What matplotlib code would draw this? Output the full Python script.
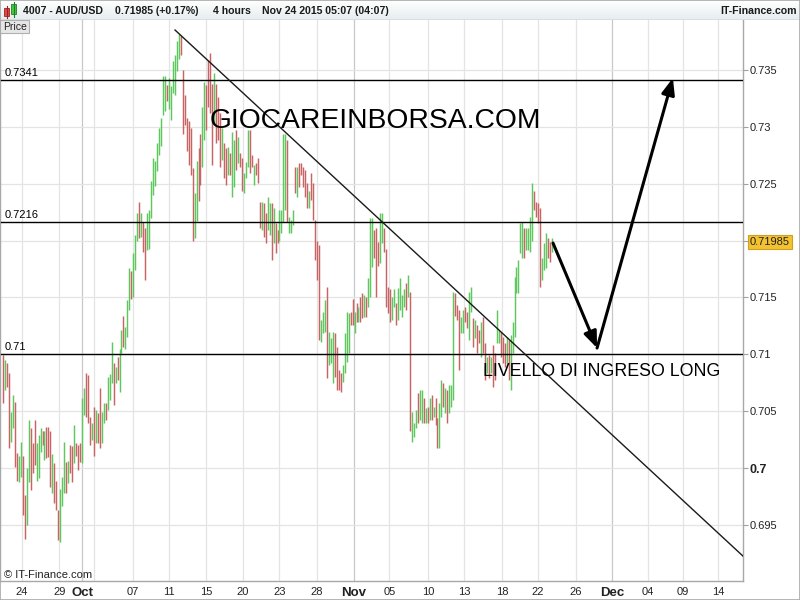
import matplotlib
matplotlib.use('Agg')
import matplotlib.pyplot as plt
import numpy as np
from matplotlib.patches import Rectangle

plt.rcParams['font.family'] = ['Liberation Sans', 'DejaVu Sans']

# ---------------- data (4-hour AUD/USD bars: high, low, direction) ----------------
highs = [
    # late Sep
    0.7099, 0.7095, 0.7092, 0.7084, 0.7049, 0.7064, 0.7058, 0.7013, 0.7011, 0.7023,
    0.7011, 0.6976, 0.7000, 0.7042, 0.7035, 0.7022, 0.7042, 0.7022, 0.7029, 0.7035,
    0.7033, 0.7033, 0.7036, 0.7036,
    0.7033, 0.7012, 0.7004, 0.6989, 0.6963, 0.6982, 0.6992, 0.7023, 0.7005, 0.7006,
    0.7020, 0.7019, 0.7038, 0.7022, 0.7020, 0.7022, 0.7062, 0.7070, 0.7084, 0.7082,
    0.7045, 0.7040, 0.7054, 0.7051, 0.7048,
    # early Oct
    0.7070, 0.7049, 0.7057, 0.7057, 0.7080, 0.7083, 0.7111, 0.7092, 0.7089, 0.7098,
    0.7105, 0.7121, 0.7134, 0.7124, 0.7148, 0.7176, 0.7173, 0.7189, 0.7205, 0.7224,
    0.7234, 0.7224, 0.7216, 0.7211, 0.7224,
    0.7227, 0.7252, 0.7273, 0.7270, 0.7286, 0.7299, 0.7308, 0.7345, 0.7345, 0.7337,
    0.7343, 0.7336, 0.7358, 0.7363, 0.7375, 0.7382, 0.7380, 0.7350, 0.7328, 0.7308,
    0.7305, 0.7299, 0.7264, 0.7242, 0.7270, 0.7281,
    # mid / late Oct
    0.7294, 0.7317, 0.7339, 0.7337, 0.7359, 0.7365, 0.7338, 0.7347, 0.7338, 0.7326,
    0.7312, 0.7299, 0.7286, 0.7281, 0.7282, 0.7277, 0.7295, 0.7288, 0.7297, 0.7291,
    0.7277, 0.7273, 0.7259, 0.7269, 0.7297, 0.7297, 0.7275, 0.7266, 0.7268, 0.7273,
    0.7234, 0.7234, 0.7233, 0.7224, 0.7238, 0.7233, 0.7233, 0.7229, 0.7215, 0.7209,
    0.7227, 0.7227, 0.7294, 0.7294, 0.7288, 0.7221, 0.7218, 0.7227, 0.7265, 0.7265,
    0.7268, 0.7268, 0.7265, 0.7262, 0.7251, 0.7244, 0.7259, 0.7251, 0.7218, 0.7200,
    # late Oct - Nov
    0.7196, 0.7130, 0.7137, 0.7148, 0.7159, 0.7120, 0.7114, 0.7120, 0.7119, 0.7106,
    0.7086, 0.7084, 0.7091, 0.7119, 0.7137, 0.7136, 0.7137, 0.7149, 0.7137, 0.7145,
    0.7142, 0.7150, 0.7154, 0.7152, 0.7150, 0.7167, 0.7220, 0.7220, 0.7209, 0.7211,
    0.7199, 0.7224, 0.7224, 0.7211, 0.7193, 0.7159, 0.7157, 0.7150, 0.7157, 0.7145,
    0.7158, 0.7167, 0.7152, 0.7157, 0.7163, 0.7170, 0.7155, 0.7049, 0.7040, 0.7051,
    0.7066, 0.7069, 0.7069, 0.7062, 0.7053, 0.7054, 0.7062, 0.7064, 0.7054, 0.7062,
    0.7044, 0.7057, 0.7077, 0.7075, 0.7070, 0.7069, 0.7073, 0.7073, 0.7155, 0.7154,
    0.7143, 0.7139, 0.7133, 0.7139, 0.7142, 0.7137, 0.7155, 0.7159, 0.7132, 0.7130,
    0.7126, 0.7121, 0.7128, 0.7133, 0.7110, 0.7098, 0.7099, 0.7098, 0.7108, 0.7101,
    0.7139, 0.7121, 0.7120, 0.7115, 0.7110, 0.7115, 0.7113, 0.7117, 0.7128, 0.7168,
    0.7177, 0.7183, 0.7215, 0.7216, 0.7211, 0.7211, 0.7211, 0.7221, 0.7251, 0.7244,
    0.7234, 0.7233, 0.7229, 0.7185, 0.7198, 0.7207, 0.7202, 0.7199, 0.7202,
]

lows = [
    0.7057, 0.7069, 0.7071, 0.7018, 0.7023, 0.7035, 0.7001, 0.6989, 0.6988, 0.6992,
    0.6959, 0.6938, 0.6950, 0.6988, 0.6981, 0.6996, 0.7003, 0.6989, 0.6991, 0.7014,
    0.7020, 0.7007, 0.7009, 0.7010,
    0.6983, 0.6978, 0.6969, 0.6963, 0.6937, 0.6935, 0.6967, 0.6978, 0.6978, 0.6987,
    0.6996, 0.6988, 0.7004, 0.7011, 0.6998, 0.7005, 0.7004, 0.7047, 0.7045, 0.7040,
    0.7020, 0.7025, 0.7011, 0.7022, 0.7022,
    0.7018, 0.7022, 0.7040, 0.7042, 0.7051, 0.7060, 0.7075, 0.7055, 0.7075, 0.7077,
    0.7067, 0.7101, 0.7106, 0.7105, 0.7115, 0.7139, 0.7149, 0.7150, 0.7174, 0.7200,
    0.7202, 0.7203, 0.7190, 0.7165, 0.7192,
    0.7193, 0.7220, 0.7240, 0.7248, 0.7261, 0.7275, 0.7283, 0.7310, 0.7314, 0.7323,
    0.7316, 0.7306, 0.7330, 0.7328, 0.7349, 0.7360, 0.7363, 0.7294, 0.7302, 0.7279,
    0.7266, 0.7258, 0.7200, 0.7202, 0.7217, 0.7235,
    0.7249, 0.7265, 0.7288, 0.7297, 0.7317, 0.7312, 0.7266, 0.7303, 0.7286, 0.7288,
    0.7265, 0.7271, 0.7255, 0.7249, 0.7258, 0.7258, 0.7238, 0.7247, 0.7262, 0.7268,
    0.7265, 0.7244, 0.7242, 0.7255, 0.7265, 0.7259, 0.7265, 0.7249, 0.7258, 0.7251,
    0.7211, 0.7209, 0.7203, 0.7198, 0.7209, 0.7205, 0.7183, 0.7198, 0.7189, 0.7198,
    0.7200, 0.7207, 0.7216, 0.7227, 0.7216, 0.7207, 0.7207, 0.7214, 0.7242, 0.7238,
    0.7247, 0.7258, 0.7247, 0.7238, 0.7229, 0.7229, 0.7236, 0.7218, 0.7183, 0.7165,
    0.7113, 0.7111, 0.7119, 0.7120, 0.7079, 0.7091, 0.7092, 0.7075, 0.7080, 0.7069,
    0.7069, 0.7067, 0.7076, 0.7084, 0.7093, 0.7101, 0.7126, 0.7126, 0.7119, 0.7128,
    0.7128, 0.7128, 0.7132, 0.7133, 0.7133, 0.7142, 0.7150, 0.7177, 0.7185, 0.7150,
    0.7178, 0.7180, 0.7198, 0.7190, 0.7142, 0.7136, 0.7128, 0.7130, 0.7142, 0.7126,
    0.7130, 0.7139, 0.7133, 0.7142, 0.7139, 0.7150, 0.7033, 0.7023, 0.7027, 0.7035,
    0.7040, 0.7042, 0.7040, 0.7040, 0.7040, 0.7040, 0.7042, 0.7042, 0.7045, 0.7038,
    0.7018, 0.7018, 0.7045, 0.7054, 0.7048, 0.7040, 0.7048, 0.7054, 0.7060, 0.7134,
    0.7130, 0.7086, 0.7119, 0.7119, 0.7128, 0.7123, 0.7113, 0.7137, 0.7106, 0.7114,
    0.7101, 0.7110, 0.7098, 0.7101, 0.7077, 0.7084, 0.7079, 0.7084, 0.7071, 0.7077,
    0.7110, 0.7110, 0.7098, 0.7092, 0.7089, 0.7092, 0.7077, 0.7069, 0.7101, 0.7115,
    0.7154, 0.7154, 0.7189, 0.7185, 0.7185, 0.7192, 0.7192, 0.7190, 0.7200, 0.7227,
    0.7221, 0.7215, 0.7159, 0.7165, 0.7174, 0.7176, 0.7185, 0.7181, 0.7190,
]

# G = up bar (green), R = down bar (red)
directions = (
    "RGRRGGRRGGRRGGRRRGGGRGRR"
    "RGRRRGGGRGRRGRRRGGRRRGRGR"
    "RGGRGGGRGRGGRGGGRGGGRGRRG"
    "GGGGGGGGGRGGGGGGRRRRRRRGGR"
    "RGGRRRRGRR" "RGRRGRGGRG" "RRGGGRRGRR" "RGRRGGRGRR" "GGGGRGGGRG" "RRRRRGRRRR"
    "RGGGRGGGRR" "RRGGGGRRGR" "GRRGRGGGRR" "RGGRRRRGGR" "GGGGRGRGGG" "RGGRGRGRGR"
    "RGGRGRGGGR" "RRGGRRGGRG" "RRGRRGRGRR" "GGRRRGRGGG" "GGGGRGGGGR" "RRRGGGRRG"
)

levels = [0.7341, 0.7216, 0.71]
level_labels = ['0.7341', '0.7216', '0.71']
last_price = 0.71985
last_label = '0.71985'

y_ticks = [0.695, 0.70, 0.705, 0.71, 0.715, 0.72, 0.725, 0.73, 0.735]
y_tick_labels = ['0.695', '0.7', '0.705', '0.71', '0.715', '', '0.725', '0.73', '0.735']

# date ticks on the bar-index axis
date_labels = ['24', '29', 'Oct', '', '07', '11', '15', '20', '23', '28', 'Nov',
               '05', '10', '13', '18', '22', '26', 'Dec', '04', '09', '14']
date_pos = [9.5, 28.5, 40.2, 46.2, 65.7, 83.9, 102.8, 121.4, 139.9, 158.8, 177.5,
            195.7, 215.2, 233.4, 252.7, 270.9, 290.1, 308.4, 326.6, 344.3, 362.0]
month_labels = ['Oct', 'Nov', 'Dec']

# drawn annotations (trend line and projected path)
trend_x = [87.1, 374.7]
trend_y = [0.73851, 0.69226]
path_x = [278.5, 300.8, 339.2]
path_y = [0.71978, 0.71055, 0.73429]

# ---------------- figure ----------------
W, H = 800, 600
fig = plt.figure(figsize=(8, 6), dpi=100)
fig.patch.set_facecolor('white')

ax = fig.add_axes([0, 19 / H, 743 / W, 561 / H])
ax.set_facecolor('white')
ax.set_xlim(-1.52, 374.7)
ax.set_ylim(0.69007, 0.73939)

n = min(len(highs), len(lows), len(directions))
xs = np.arange(n)
cols = ['#5ec85e' if d == 'G' else '#c96464' for d in directions[:n]]
ax.vlines(xs, lows[:n], highs[:n], colors=cols, linewidth=1.05, zorder=3)

# grid
for p, lab in zip(date_pos, date_labels):
    c = '#c8c8c8' if lab in month_labels else '#e4e4e4'
    ax.axvline(p, color=c, lw=0.9, zorder=0)
for yv in y_ticks:
    ax.axhline(yv, color='#e4e4e4', lw=0.9, zorder=0)

# horizontal levels
for lv, lab in zip(levels, level_labels):
    ax.axhline(lv, color='black', lw=1.0, zorder=4)
    ax.annotate(lab, xy=(0, lv), xycoords=('axes fraction', 'data'),
                xytext=(3, 1.5), textcoords='offset points',
                fontsize=8, color='black', ha='left', va='bottom')

# trend line
ax.plot(trend_x, trend_y, color='#1a1a1a', lw=1.0, zorder=4)

# projected path arrows
for i in range(len(path_x) - 1):
    ax.annotate('', xy=(path_x[i + 1], path_y[i + 1]), xytext=(path_x[i], path_y[i]),
                arrowprops=dict(arrowstyle='-|>,head_length=0.7,head_width=0.28',
                                lw=2.2, color='black', shrinkA=0, shrinkB=0,
                                mutation_scale=14), zorder=5)

# axes styling
ax.spines['top'].set_visible(False)
for s in ['left', 'right', 'bottom']:
    ax.spines[s].set_color('#a8a8a8')
    ax.spines[s].set_linewidth(1.0)

ax.yaxis.tick_right()
ax.set_yticks(y_ticks)
ax.set_yticklabels(y_tick_labels)
ax.tick_params(axis='y', length=3.5, width=0.8, color='#a0a0a0', labelsize=8,
               pad=1.5, labelcolor='#222222')
for t in ax.get_yticklabels():
    if t.get_text() == '0.7':
        t.set_fontweight('bold')
        t.set_fontsize(9)

ax.set_xticks(date_pos)
ax.set_xticklabels(date_labels)
ax.tick_params(axis='x', length=0, pad=4.5, labelsize=8, labelcolor='#222222')
for t in ax.get_xticklabels():
    if t.get_text() in month_labels:
        t.set_fontweight('bold')
        t.set_fontsize(9.5)

# last price box
ax.annotate(last_label, xy=(1, last_price), xycoords=('axes fraction', 'data'),
            xytext=(5, 0), textcoords='offset points', fontsize=8, color='#222222',
            ha='left', va='center',
            bbox=dict(boxstyle='square,pad=0.2', fc='#f2c230', ec='#cfa020', lw=0.8),
            annotation_clip=False)

# watermark / annotation texts
fig.text(210 / W, 1 - 121 / H, 'GIOCAREINBORSA.COM', fontsize=20.3, ha='left',
         va='center', color='black')
fig.text(483 / W, 1 - 371 / H, 'LIVELLO DI INGRESO LONG', fontsize=12.75,
         ha='left', va='center', color='black')
fig.text(4 / W, 1 - 575 / H, '\u00a9 IT-Finance.com', fontsize=8, ha='left',
         va='center', color='#222222')

# ---------------- header ----------------
hax = fig.add_axes([0, 1 - 20 / H, 1, 20 / H])
grad = np.linspace(0, 1, 20).reshape(-1, 1)
top = np.array([1.0, 1.0, 1.0])
bot = np.array([0.90, 0.93, 0.94])
img = top[None, None, :] * (1 - grad[:, :, None]) + bot[None, None, :] * grad[:, :, None]
hax.imshow(img, extent=[0, W, 20, 0], aspect='auto')
hax.set_xlim(0, W)
hax.set_ylim(20, 0)
hax.axis('off')
hax.plot([0, W], [19.5, 19.5], color='#a8a8a8', lw=1.0)
# candle icon
hax.plot([6.5, 6.5], [5.5, 18], color='#a02020', lw=0.8)
hax.add_patch(Rectangle((4, 8), 5, 8, fc='#e04848', ec='#a02020', lw=0.6))
hax.plot([13.5, 13.5], [1.5, 16.5], color='#208020', lw=0.8)
hax.add_patch(Rectangle((11, 4), 5, 10, fc='#44c844', ec='#208020', lw=0.6))
hdr = dict(fontsize=7.6, fontweight='bold', color='#1a1a1a', va='center')
hax.text(23, 11, '4007 - AUD/USD', ha='left', **hdr)
hax.text(115, 11, '0.71985 (+0.17%)', ha='left', **hdr)
hax.text(213, 11, '4 hours', ha='left', **hdr)
hax.text(262, 11, 'Nov 24 2015 05:07 (04:07)', ha='left', **hdr)
hax.text(797, 11, 'IT-Finance.com', ha='right', **hdr)

# "Price" tab
fig.patches.append(Rectangle((0, 1 - 33 / H), 29 / W, 13 / H, transform=fig.transFigure,
                             fc='#e6e6e6', ec='#b0b0b0', lw=0.8, zorder=10))
fig.text(3 / W, 1 - 27 / H, 'Price', fontsize=7.5, ha='left', va='center',
         color='#222222', zorder=11)

# outer border
fig.patches.append(Rectangle((0, 0), 1, 1, transform=fig.transFigure, fill=False,
                             ec='#a8a8a8', lw=1.2, zorder=12))

fig.savefig('out.png', dpi=100)
